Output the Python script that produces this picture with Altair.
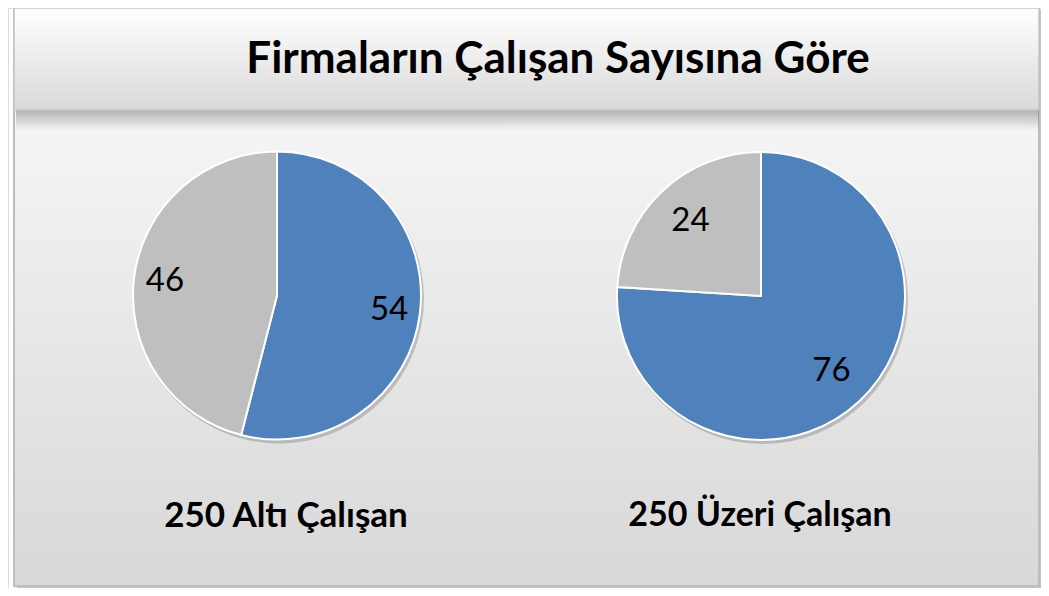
import altair as alt
import pandas as pd

# ---- data ----
title_text = "Firmaların Çalışan Sayısına Göre"
pie_names = ["250 Altı Çalışan", "250 Üzeri Çalışan"]
slice_names = ["Dilim 1", "Dilim 2"]
left_values = [54, 46]
right_values = [76, 24]
slice_colors = ["#4F81BD", "#BFBFBF"]

rows = []
for pname, vals in zip(pie_names, [left_values, right_values]):
    for i, (s, v) in enumerate(zip(slice_names, vals)):
        rows.append({"pie": pname, "slice": s, "value": v, "idx": i})
df = pd.DataFrame(rows)

W, H = 1033, 580
one = alt.Data(values=[{"a": 1}])


def grad(stops):
    return alt.LinearGradient(
        gradient="linear",
        stops=[alt.GradientStop(color=c, offset=o) for o, c in stops],
        x1=0, x2=0, y1=0, y2=1,
    )


def box(x, x2, y, y2, **kw):
    return alt.Chart(one).mark_rect(**kw).encode(
        x=alt.value(x), x2=alt.value(x2), y=alt.value(y), y2=alt.value(y2)
    )


# background decorations
outer_shadow = box(9, 1033, 2, 580, fill="#9a9a9a", opacity=0.6)
outer = box(6, 1031, 0, 578,
            fill=grad([(0, "#ffffff"), (0.22, "#f4f4f4"), (1, "#d8d8d8")]),
            stroke="#bdbdbd", strokeWidth=2)
title_shadow = box(8, 1031, 102, 122,
                   fill=grad([(0, "rgba(0,0,0,0.28)"), (1, "rgba(0,0,0,0)")]))
title_box = box(6, 1031, 0, 102,
                fill=grad([(0, "#ffffff"), (1, "#d9d9d9")]),
                stroke="#c4c4c4", strokeWidth=1.5)
title = alt.Chart(one).mark_text(
    text=title_text, font="Lato", fontWeight="bold", fontSize=44,
    color="#000000", align="center", baseline="middle",
).encode(x=alt.value(550), y=alt.value(52))

color = alt.Color("slice:N", scale=alt.Scale(domain=slice_names, range=slice_colors), legend=None)


def pie_layers(name, cx, cy, label_r, cap_x, cap_size):
    base = alt.Chart(df).transform_filter(alt.datum.pie == name).encode(
        theta=alt.Theta("value:Q", stack=True),
        order=alt.Order("idx:Q"),
        x=alt.value(cx), y=alt.value(cy),
    )
    shadow = alt.Chart(one).mark_arc(
        theta=0, theta2=6.2832, outerRadius=145, fill="rgba(0,0,0,0.18)"
    ).encode(x=alt.value(cx + 2), y=alt.value(cy + 3))
    arcs = base.mark_arc(outerRadius=144, stroke="white", strokeWidth=2).encode(color=color)
    labels = base.mark_text(radius=label_r, fontSize=33, font="Lato", color="#000000").encode(
        text="value:Q")
    cap = alt.Chart(one).mark_text(
        text=name, font="Lato", fontWeight="bold", fontSize=cap_size, color="#000000",
        align="center", baseline="middle",
    ).encode(x=alt.value(cap_x), y=alt.value(508))
    return [shadow, arcs, labels, cap]


left = pie_layers(pie_names[0], 269, 287.5, 113, 278, 35)
right = pie_layers(pie_names[1], 753, 288, 103, 752, 34)

chart = alt.layer(outer_shadow, outer, title_shadow, title_box, title, *left, *right).properties(
    width=W, height=H, padding=0, autosize=alt.AutoSizeParams(type="none")
).configure_view(stroke=None).configure(background="#ffffff")

chart.save("out.html", embed_options={"renderer": "svg", "actions": False})
